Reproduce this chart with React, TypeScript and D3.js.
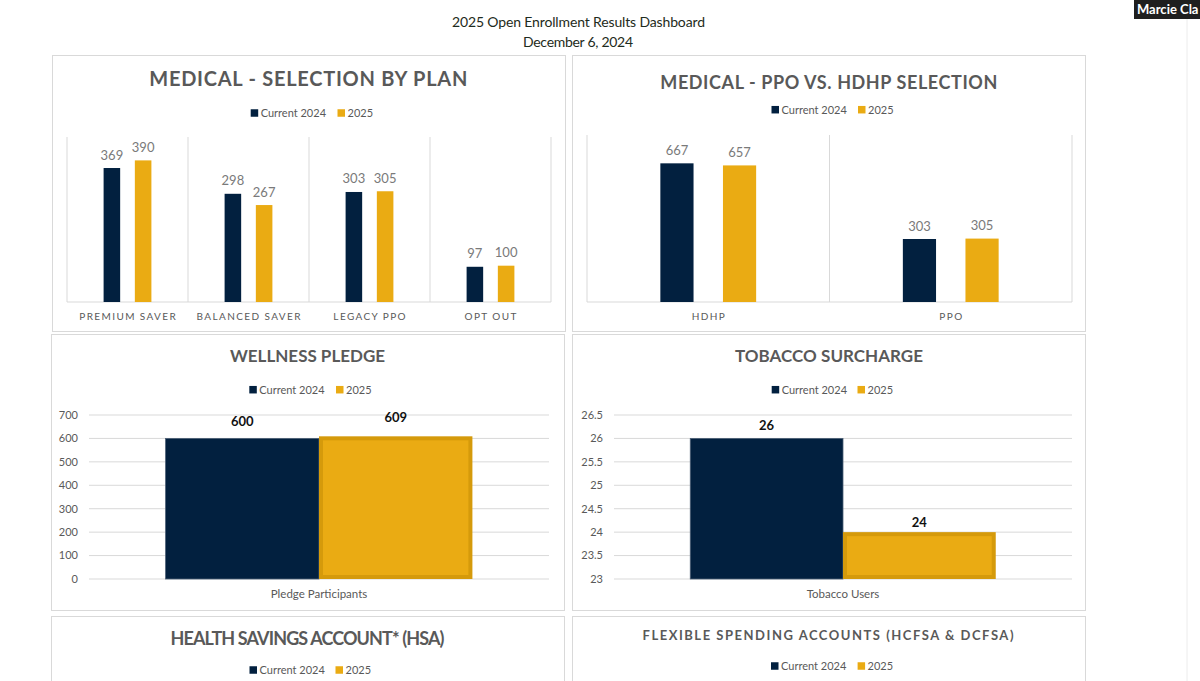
import React from "react";
import * as d3 from "d3";

// ---------- DATA ----------
const seriesNames = ["Current 2024", "2025"];

const planCategories = ["PREMIUM SAVER", "BALANCED SAVER", "LEGACY PPO", "OPT OUT"];
const plan2024 = [369, 298, 303, 97];
const plan2025 = [390, 267, 305, 100];

const typeCategories = ["HDHP", "PPO"];
const type2024 = [667, 303];
const type2025 = [657, 305];

const wellnessCategories = ["Pledge Participants"];
const wellness2024 = [600];
const wellness2025 = [609];
const wellnessTicks = [0, 100, 200, 300, 400, 500, 600, 700];

const tobaccoCategories = ["Tobacco Users"];
const tobacco2024 = [26];
const tobacco2025 = [24];
const tobaccoTicks = [23, 23.5, 24, 24.5, 25, 25.5, 26, 26.5];

const dashboardTitle = "2025 Open Enrollment Results Dashboard";
const dashboardDate = "December 6, 2024";

// ---------- STYLE ----------
const NAVY = "#02203f";
const GOLD = "#eaab13";
const GOLD_EDGE = "#d59a0b";
const GRAY_TEXT = "#595959";
const GRID = "#d9d9d9";
const FONT = "Lato, 'Open Sans', sans-serif";

function Legend({ x1, x2, cy }: { x1: number; x2: number; cy: number }) {
  const s = 7.5;
  return (
    <g fontFamily={FONT} fontSize={11} fill={GRAY_TEXT}>
      <rect x={x1} y={cy - s / 2} width={s} height={s} fill={NAVY} />
      <text x={x1 + 10} y={cy + 4}>{seriesNames[0]}</text>
      <rect x={x2} y={cy - s / 2} width={s} height={s} fill={GOLD} />
      <text x={x2 + 10} y={cy + 4}>{seriesNames[1]}</text>
    </g>
  );
}

function Title({ text, cx, y, size, len, spacing = 0 }: any) {
  return (
    <text
      x={cx}
      y={y}
      textAnchor="middle"
      fontFamily={FONT}
      fontWeight={700}
      fontSize={size}
      fill={GRAY_TEXT}
      textLength={len}
      lengthAdjust="spacing"
    >
      {text}
    </text>
  );
}

function Clustered({ categories, a, b, yMax, left, right, base, pxPerUnit, sepTop }: any) {
  const x = d3.scaleBand<string>().domain(categories).range([left, right]);
  const groupW = x.bandwidth() * 0.395;
  const inner = d3.scaleBand<string>().domain(seriesNames).range([-groupW / 2, groupW / 2]).paddingInner(0.47);
  const y = d3.scaleLinear().domain([0, yMax]).range([base, base - yMax * pxPerUnit]);
  const seps = [...categories.map((c: string) => x(c) as number), right];
  return (
    <g>
      {seps.map((sx: number, i: number) => (
        <line key={i} x1={sx} x2={sx} y1={sepTop} y2={base} stroke={GRID} strokeWidth={1} />
      ))}
      <line x1={left} x2={right} y1={base} y2={base} stroke={GRID} strokeWidth={1} />
      {categories.map((c: string, i: number) => {
        const cx = (x(c) as number) + x.bandwidth() / 2;
        return (
          <g key={c}>
            {[a[i], b[i]].map((v: number, j: number) => {
              const bx = cx + (inner(seriesNames[j]) as number);
              return (
                <g key={j}>
                  <rect x={bx} y={y(v)} width={inner.bandwidth()} height={base - y(v)} fill={j === 0 ? NAVY : GOLD} />
                  <text
                    x={bx + inner.bandwidth() / 2}
                    y={y(v) - 8.5}
                    textAnchor="middle"
                    fontFamily={FONT}
                    fontSize={13}
                    fill="#7a7a7a"
                  >
                    {v}
                  </text>
                </g>
              );
            })}
            <text
              x={cx + 0.7}
              y={320}
              textAnchor="middle"
              fontFamily={FONT}
              fontSize={10}
              letterSpacing={1.4}
              fill={GRAY_TEXT}
            >
              {c}
            </text>
          </g>
        );
      })}
    </g>
  );
}

function Single({ categories, a, b, domain, ticks, left, right, tickX, offsets }: any) {
  const base = 579;
  const top = 415;
  const x = d3.scaleBand<string>().domain(categories).range([left, right]);
  const y = d3.scaleLinear().domain(domain).range([base, top]);
  const groupW = x.bandwidth() * 0.667;
  const inner = d3.scaleBand<string>().domain(seriesNames).range([-groupW / 2, groupW / 2]);
  return (
    <g>
      {ticks.map((t: number) => (
        <g key={t}>
          <line x1={left} x2={right} y1={y(t)} y2={y(t)} stroke={GRID} strokeWidth={1} />
          <text x={tickX} y={y(t)} dy="0.35em" textAnchor="end" fontFamily={FONT} fontSize={11} fill={GRAY_TEXT}>
            {t}
          </text>
        </g>
      ))}
      {categories.map((c: string, i: number) => {
        const cx = (x(c) as number) + x.bandwidth() / 2;
        return (
          <g key={c}>
            {[a[i], b[i]].map((v: number, j: number) => {
              const bx = cx + (inner(seriesNames[j]) as number);
              const w = inner.bandwidth();
              return (
                <g key={j}>
                  {j === 0 ? (
                    <rect x={bx} y={y(v)} width={w} height={base - y(v)} fill={NAVY} stroke="#4d5f76" strokeWidth={0.8} />
                  ) : (
                    <rect x={bx + 2} y={y(v) + 2} width={w - 4} height={base - y(v) - 4} fill={GOLD} stroke={GOLD_EDGE} strokeWidth={4} />
                  )}
                  <text
                    x={bx + w / 2}
                    y={y(v) - offsets[j]}
                    textAnchor="middle"
                    fontFamily={FONT}
                    fontWeight={700}
                    fontSize={13}
                    fill="#111"
                  >
                    {v}
                  </text>
                </g>
              );
            })}
            <text x={cx} y={598} textAnchor="middle" fontFamily={FONT} fontSize={11.5} fill={GRAY_TEXT}>
              {c}
            </text>
          </g>
        );
      })}
    </g>
  );
}

export default function App() {
  return (
    <div style={{ position: "absolute", left: 0, top: 0 }}>
      <svg width={1200} height={681} style={{ display: "block", background: "#fff" }}>
        <rect x={0} y={0} width={1200} height={681} fill="#fff" />

        {/* global titles */}
        <text x={578.5} y={27} textAnchor="middle" fontFamily={FONT} fontSize={14} fill="#1e2b20" textLength={253} lengthAdjust="spacing">
          {dashboardTitle}
        </text>
        <text x={578} y={47} textAnchor="middle" fontFamily={FONT} fontSize={14} fill="#1e2b20" textLength={110} lengthAdjust="spacing">
          {dashboardDate}
        </text>

        {/* video thumbnail corner */}
        <rect x={1134} y={0} width={66} height={19} fill="#1f1f1f" />
        <text x={1137} y={14} fontFamily={FONT} fontWeight={700} fontSize={13} fill="#fff">Marcie Cla</text>
        <line x1={1187} x2={1187} y1={19} y2={681} stroke="#ececec" strokeWidth={1} />

        {/* panel borders */}
        <rect x={52.5} y={55.5} width={513} height={276} fill="none" stroke={GRID} />
        <rect x={572.5} y={55.5} width={513} height={276} fill="none" stroke={GRID} />
        <rect x={51.5} y={334.5} width={513} height={276} fill="none" stroke={GRID} />
        <rect x={572.5} y={334.5} width={513} height={276} fill="none" stroke={GRID} />
        <rect x={51.5} y={616.5} width={513} height={100} fill="none" stroke={GRID} />
        <rect x={572.5} y={616.5} width={513} height={100} fill="none" stroke={GRID} />

        {/* Panel 1 */}
        <Title text="MEDICAL - SELECTION BY PLAN" cx={308.3} y={86} size={20} len={318} />
        <Legend x1={250.7} x2={337.5} cy={113} />
        <Clustered categories={planCategories} a={plan2024} b={plan2025} yMax={450} left={67} right={551} base={302} pxPerUnit={0.3631} sepTop={137} />

        {/* Panel 2 */}
        <Title text="MEDICAL - PPO VS. HDHP SELECTION" cx={828.8} y={89} size={18} len={337} />
        <Legend x1={771.5} x2={858} cy={109.7} />
        <Clustered categories={typeCategories} a={type2024} b={type2025} yMax={800} left={587} right={1072} base={302} pxPerUnit={0.2079} sepTop={135} />

        {/* Panel 3 */}
        <Title text="WELLNESS PLEDGE" cx={307.5} y={362} size={17} len={155} />
        <Legend x1={249.3} x2={336} cy={389.7} />
        <Single categories={wellnessCategories} a={wellness2024} b={wellness2025} domain={[0, 700]} ticks={wellnessTicks} left={89} right={549} tickX={78} offsets={[12.5, 14.5]} />

        {/* Panel 4 */}
        <Title text="TOBACCO SURCHARGE" cx={829} y={362} size={17} len={188} />
        <Legend x1={771.7} x2={857.5} cy={389.7} />
        <Single categories={tobaccoCategories} a={tobacco2024} b={tobacco2025} domain={[23, 26.5]} ticks={tobaccoTicks} left={614} right={1072} tickX={603} offsets={[8.5, 5.5]} />

        {/* Panel 5 */}
        <Title text="HEALTH SAVINGS ACCOUNT* (HSA)" cx={307.5} y={645} size={18} len={274} />
        <Legend x1={249.5} x2={335.5} cy={670} />

        {/* Panel 6 */}
        <Title text="FLEXIBLE SPENDING ACCOUNTS (HCFSA & DCFSA)" cx={828} y={640} size={13} len={371} />
        <Legend x1={771} x2={857.6} cy={666} />
      </svg>
    </div>
  );
}
